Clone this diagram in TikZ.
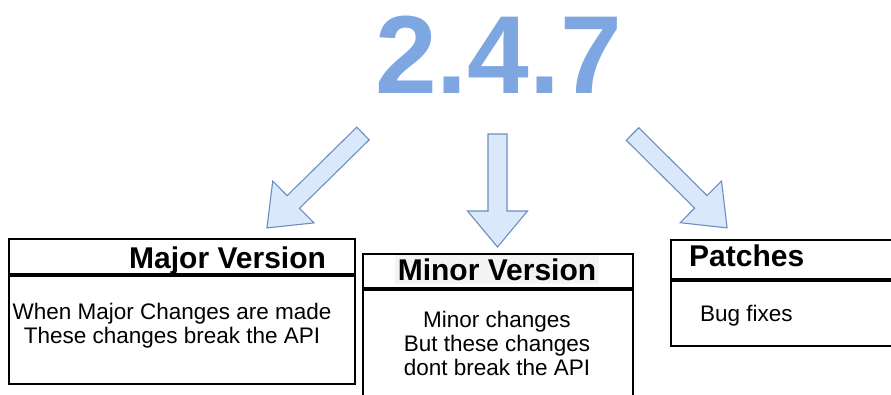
\documentclass[tikz,border=0pt]{standalone}
\usepackage{fontspec}
\setmainfont{Liberation Sans}
\definecolor{verblue}{HTML}{7EA6E0}
\definecolor{arrowfill}{HTML}{DAE8FC}
\definecolor{arrowline}{HTML}{6C8EBF}
\definecolor{titlebg}{HTML}{F3F4F6}
\tikzset{
  box/.style={draw=black, line width=1.6pt, inner sep=0pt, anchor=north west},
  rule/.style={line width=4.5pt, black},
  titletext/.style={font=\fontsize{30}{34}\selectfont\bfseries, inner sep=0pt},
  bodytext/.style={font=\fontsize{22.5}{24}\selectfont, inner sep=0pt, align=center},
  blockstyle/.style={draw=arrowline, fill=arrowfill, line width=1.1pt, line join=miter},
  pics/blockarrow/.style args={#1/#2/#3/#4}{code={
    \draw[blockstyle] (0,-#2/2) -- (#1-#4,-#2/2) -- (#1-#4,-#3/2) -- (#1,0)
      -- (#1-#4,#3/2) -- (#1-#4,#2/2) -- (0,#2/2) -- cycle;
  }}
}
\begin{document}
\begin{tikzpicture}[x=1pt,y=-1pt]
\useasboundingbox (0,0) rectangle (891,394);

% version number
\node[font=\fontsize{111}{120}\selectfont\bfseries, text=verblue, inner sep=0pt, anchor=base]
  (ver) at (498.5,93) {2.4.7};

% block arrows: length / shaft width / head width / head length
\pic[rotate=-135.5] (amajor) at (363,133.5) {blockarrow=134.7/17.7/58.7/37};
\pic[rotate=-90] (aminor) at (497.5,134) {blockarrow=113/19/60/36};
\pic[rotate=-44.8] (apatch) at (632.5,134) {blockarrow=133.3/17.7/58.7/37};

% major version box
\node[box, minimum width=346pt, minimum height=145pt] (major) at (8,238) {};
\draw[rule] (major.north west |- 0,275) -- (major.north east |- 0,275);
\node[titletext, anchor=base west] (majort) at (129,268) {Major Version};
\node[bodytext, anchor=base] (majorb1) at (172,319) {When Major Changes are made};
\node[bodytext, anchor=base] (majorb2) at (172,343) {These changes break the API};

% minor version box (runs past the bottom edge); title sits on a pale panel
\node[titletext, anchor=base, fill=titlebg, inner ysep=3.5pt, inner xsep=3pt] (minort) at (497,280) {Minor Version};
\node[box, minimum width=270pt, minimum height=160pt] (minor) at (362,253) {};
\draw[rule] (minor.north west |- 0,289) -- (minor.north east |- 0,289);
\node[bodytext, anchor=base] (minorb1) at (497,327) {Minor changes};
\node[bodytext, anchor=base] (minorb2) at (497,351) {But these changes};
\node[bodytext, anchor=base] (minorb3) at (497,375) {dont break the API};

% patches box (runs past the right edge)
\node[box, minimum width=240pt, minimum height=106pt] (patch) at (670,239) {};
\draw[rule] (patch.north west |- 0,280) -- (patch.north east |- 0,280);
\node[titletext, anchor=base west] (patcht) at (689,266) {Patches};
\node[bodytext, anchor=base west] (patchb) at (700,321) {Bug fixes};
\end{tikzpicture}
\end{document}
